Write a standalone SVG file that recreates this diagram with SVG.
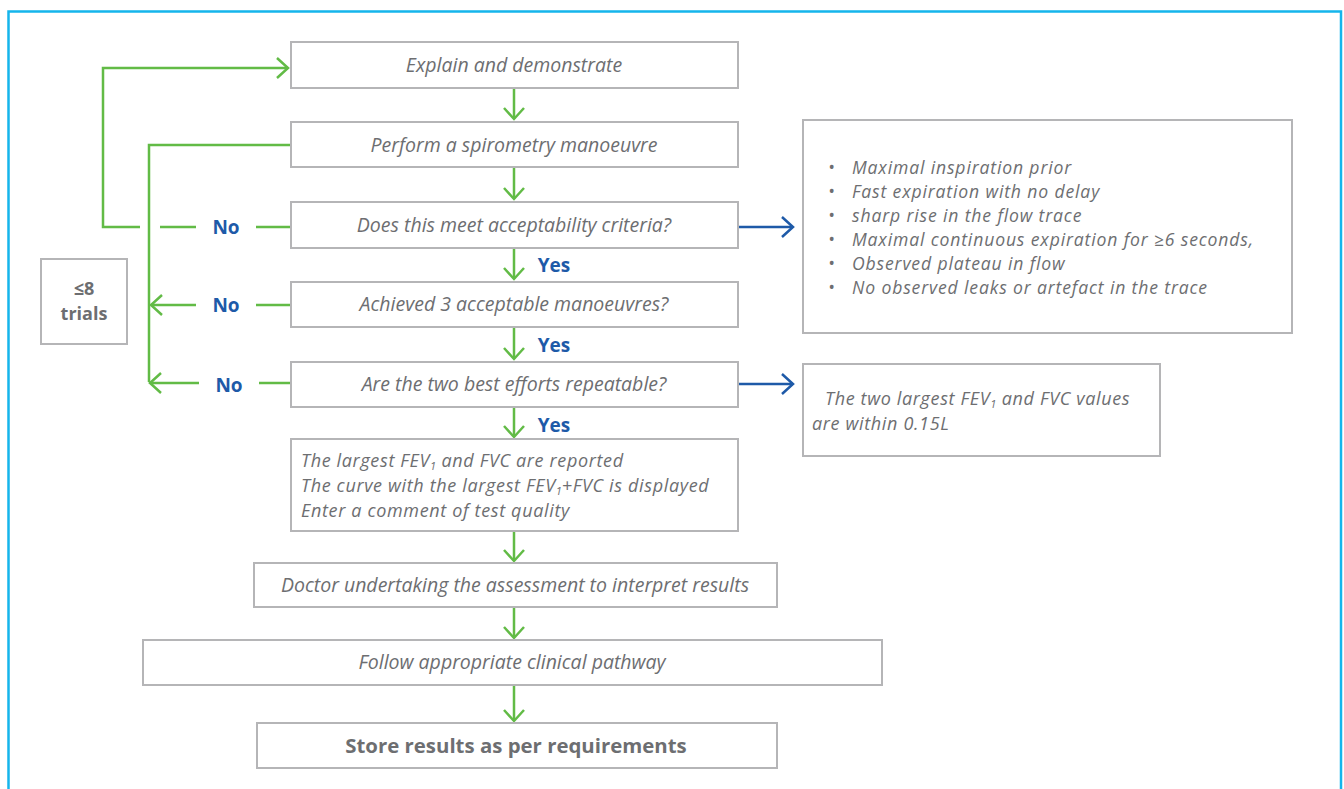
<svg xmlns="http://www.w3.org/2000/svg" width="1344" height="789" viewBox="0 0 1344 789">
<style>
.box{fill:#fff;stroke:#b5b5b7;stroke-width:2}
.t{font-family:"Open Sans","Liberation Sans",sans-serif;font-style:italic;font-size:19.5px;fill:#6d6e71}
.m{font-size:18px;letter-spacing:0.65px}
.ml{font-size:17.6px;letter-spacing:0.85px}
.c{text-anchor:middle}
.b{font-family:"Open Sans","Liberation Sans",sans-serif;font-weight:bold;font-size:20.4px;fill:#6d6e71}
.tr{font-family:"Open Sans","Liberation Sans",sans-serif;font-weight:bold;font-size:18px;fill:#6d6e71}
.lbl{font-family:"Open Sans","Liberation Sans",sans-serif;font-weight:bold;font-size:19px;fill:#1e5aa8;text-anchor:middle}
.sub{font-size:11px;letter-spacing:0}
.g{fill:none;stroke:#62bb46;stroke-width:2.5}
.bl{fill:none;stroke:#1e5aa8;stroke-width:2.5}
</style>
<defs>
<marker id="ag" markerUnits="userSpaceOnUse" markerWidth="24" markerHeight="24" refX="12" refY="12" orient="auto" viewBox="0 0 24 24">
<path d="M1,2 L12,12 L1,22" fill="none" stroke="#62bb46" stroke-width="2.5"/>
</marker>
<marker id="ab" markerUnits="userSpaceOnUse" markerWidth="24" markerHeight="24" refX="12" refY="12" orient="auto" viewBox="0 0 24 24">
<path d="M1,2 L12,12 L1,22" fill="none" stroke="#1e5aa8" stroke-width="2.5"/>
</marker>
</defs>
<rect x="8.5" y="11.5" width="1332.5" height="800" fill="#fff" stroke="#15b5ec" stroke-width="2.5"/>

<g id="connectors">
<path class="g" d="M514,89 V119" marker-end="url(#ag)"/>
<path class="g" d="M514,168 V199" marker-end="url(#ag)"/>
<path class="g" d="M514,249 V279" marker-end="url(#ag)"/>
<path class="g" d="M514,328 V359" marker-end="url(#ag)"/>
<path class="g" d="M514,408 V437" marker-end="url(#ag)"/>
<path class="g" d="M514,532 V561" marker-end="url(#ag)"/>
<path class="g" d="M514,608 V638" marker-end="url(#ag)"/>
<path class="g" d="M514,686 V721" marker-end="url(#ag)"/>
<path class="g" d="M290,227 H256"/>
<path class="g" d="M196,227 H160"/>
<path class="g" d="M140,227 H103 V68 H288" marker-end="url(#ag)"/>
<path class="g" d="M291,145 H149 V382"/>
<path class="g" d="M291,305 H256"/>
<path class="g" d="M196,305 H151" marker-end="url(#ag)"/>
<path class="g" d="M291,383 H259"/>
<path class="g" d="M199,383 H150" marker-end="url(#ag)"/>
<path class="bl" d="M739,227 H793" marker-end="url(#ab)"/>
<path class="bl" d="M739,384 H793" marker-end="url(#ab)"/>
<text class="lbl" x="226" y="234">No</text>
<text class="lbl" x="226" y="312">No</text>
<text class="lbl" x="229" y="392">No</text>
<text class="lbl" x="554" y="272">Yes</text>
<text class="lbl" x="554" y="352">Yes</text>
<text class="lbl" x="554" y="432">Yes</text>
</g>

<g id="n-explain">
<rect class="box" x="291" y="42" width="447" height="46"/>
<text class="t c" x="514" y="72">Explain and demonstrate</text>
</g>
<g id="n-perform">
<rect class="box" x="291" y="122" width="447" height="45"/>
<text class="t c" x="514" y="152">Perform a spirometry manoeuvre</text>
</g>
<g id="n-accept">
<rect class="box" x="291" y="202" width="447" height="46"/>
<text class="t c" x="514" y="232">Does this meet acceptability criteria?</text>
</g>
<g id="n-achieved">
<rect class="box" x="291" y="282" width="447" height="45"/>
<text class="t c" x="514" y="311">Achieved 3 acceptable manoeuvres?</text>
</g>
<g id="n-repeat">
<rect class="box" x="291" y="362" width="447" height="45"/>
<text class="t c" x="514" y="391">Are the two best efforts repeatable?</text>
</g>
<g id="n-report">
<rect class="box" x="291" y="439" width="447" height="92"/>
<text class="t m"><tspan x="301" y="467">The largest FEV</tspan><tspan class="sub" dy="2.5">1</tspan><tspan dy="-2.5"> and FVC are reported</tspan><tspan x="301" y="492">The curve with the largest FEV</tspan><tspan class="sub" dy="2.5">1</tspan><tspan dy="-2.5">+FVC is displayed</tspan><tspan x="301" y="517">Enter a comment of test quality</tspan></text>
</g>
<g id="n-doctor">
<rect class="box" x="254" y="563" width="523" height="44"/>
<text class="t c" x="515" y="592">Doctor undertaking the assessment to interpret results</text>
</g>
<g id="n-follow">
<rect class="box" x="143" y="640" width="739" height="45"/>
<text class="t c" x="512" y="669">Follow appropriate clinical pathway</text>
</g>
<g id="n-store">
<rect class="box" x="257" y="723" width="520" height="45"/>
<text class="b c" x="516" y="753">Store results as per requirements</text>
</g>
<g id="n-trials">
<rect class="box" x="41" y="259" width="86" height="85"/>
<text class="tr c"><tspan x="84" y="295">≤8</tspan><tspan x="84" y="320">trials</tspan></text>
</g>
<g id="n-criteria">
<rect class="box" x="803" y="120" width="489" height="213"/>
<text class="t ml"><tspan x="828" y="174">•</tspan><tspan x="852" y="174">Maximal inspiration prior</tspan><tspan x="828" y="198">•</tspan><tspan x="852" y="198">Fast expiration with no delay</tspan><tspan x="828" y="222">•</tspan><tspan x="852" y="222">sharp rise in the flow trace</tspan><tspan x="828" y="246">•</tspan><tspan x="852" y="246">Maximal continuous expiration for ≥6 seconds,</tspan><tspan x="828" y="270">•</tspan><tspan x="852" y="270">Observed plateau in flow</tspan><tspan x="828" y="294">•</tspan><tspan x="852" y="294">No observed leaks or artefact in the trace</tspan></text>
</g>
<g id="n-fevvalues">
<rect class="box" x="803" y="364" width="357" height="92"/>
<text class="t m"><tspan x="825" y="405">The two largest FEV</tspan><tspan class="sub" dy="2.5">1</tspan><tspan dy="-2.5"> and FVC values</tspan><tspan x="812" y="430">are within 0.15L</tspan></text>
</g>
</svg>
